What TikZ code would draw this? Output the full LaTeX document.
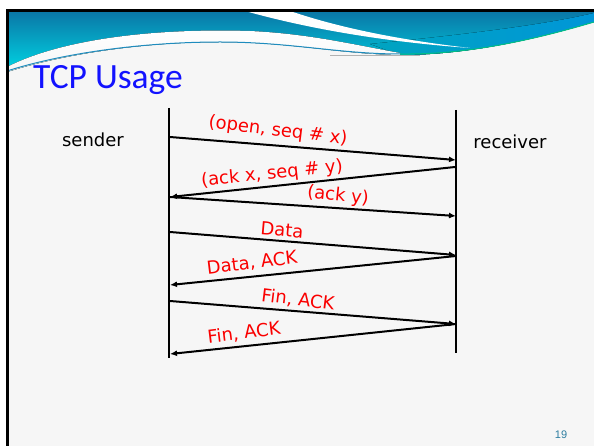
\documentclass[tikz,border=0pt]{standalone}
\usepackage{fontspec}
\setmainfont{Carlito}
\newfontfamily\handfont{DejaVu Sans}
\newfontfamily\numfont{Liberation Sans}
\usetikzlibrary{arrows.meta}

\definecolor{slidebg}{RGB}{246,246,246}
\definecolor{banddark}{RGB}{10,118,166}
\definecolor{bandcyan}{RGB}{0,214,228}
\definecolor{bandteal}{RGB}{0,164,192}
\definecolor{bandbright}{RGB}{0,150,216}
\definecolor{edgeline}{RGB}{30,140,190}
\definecolor{titleblue}{RGB}{18,18,255}
\definecolor{msgred}{RGB}{250,0,0}
\definecolor{pagenum}{RGB}{45,125,160}

\begin{document}
\begin{tikzpicture}[x=1pt,y=-1pt,
  lifeline/.style={line width=2.6pt,black},
  msg/.style={line width=2pt,black,-{Latex[length=7pt,width=6pt]}},
  msglabel/.style={text=msgred,font=\handfont\fontsize{18}{20}\selectfont,inner sep=0pt},
  party/.style={text=black,font=\handfont\fontsize{18}{20}\selectfont,inner sep=0pt}]
\useasboundingbox (0,0) rectangle (594,446);
\fill[white] (0,0) rectangle (594,446);
\fill[slidebg] (7,11) rectangle (594,446);

% header band
\fill[top color=banddark,bottom color=bandcyan]
  (7,11) -- (594,11) -- (594,22)
  .. controls (540,38) and (470,55) .. (400,55)
  .. controls (340,54) and (290,42) .. (220,42)
  .. controls (140,42) and (60,55) .. (7,72) -- cycle;
% brighter blue region on the right
\fill[left color=bandteal,right color=bandbright]
  (370,44) .. controls (450,36) and (540,26) .. (594,13) -- (594,22)
  .. controls (540,38) and (470,55) .. (400,55) -- cycle;
% white swoosh on the left
\fill[top color=white,bottom color=slidebg]
  (7,67) .. controls (60,40) and (150,28) .. (250,31)
  .. controls (310,34) and (350,44) .. (400,53)
  -- (400,55) .. controls (340,54) and (290,42) .. (220,42)
  .. controls (140,42) and (60,55) .. (7,72) -- cycle;
% white streak across the band
\fill[white] (245,11) -- (290,11)
  .. controls (340,28) and (400,40) .. (470,48)
  .. controls (400,43) and (320,32) .. (245,11) -- cycle;
% fine edge lines
\draw[edgeline,line width=1pt]
  (7,71) .. controls (60,54) and (140,42) .. (220,42)
  .. controls (290,42) and (340,54) .. (400,54);
\draw[bandteal!70!green,line width=1pt]
  (400,54) .. controls (470,55) and (540,38) .. (594,22);
\draw[gray!60,line width=1pt] (330,56) -- (420,56);

% slide frame
\draw[black,line width=2.5pt] (6,10.5) -- (594,10.5);
\draw[black,line width=3pt] (7.5,9.5) -- (7.5,446);

% title
\node[anchor=base west,inner sep=0pt,text=titleblue,
  font=\fontsize{35.5}{40}\selectfont] (title) at (33,89) {TCP Usage};

% parties and lifelines
\node[party] (sender) at (93,140) {sender};
\node[party] (receiver) at (510,142) {receiver};
\coordinate (sTop) at (169,108);
\coordinate (sBot) at (169,358);
\coordinate (rTop) at (456,110);
\coordinate (rBot) at (456,353);
\draw[lifeline] (sTop) -- (sBot);
\draw[lifeline,line width=2.3pt] (rTop) -- (rBot);

% message end points
\coordinate (s1) at (170,137); \coordinate (r1) at (456,160);
\coordinate (r2) at (455,167); \coordinate (s2) at (170,197);
\coordinate (s3) at (170,197); \coordinate (r3) at (456,216);
\coordinate (s4) at (170,232); \coordinate (r4) at (456,255);
\coordinate (r5) at (456,256); \coordinate (s5) at (170,285);
\coordinate (s6) at (170,301); \coordinate (r6) at (456,324);
\coordinate (r7) at (456,324); \coordinate (s7) at (170,354);

% messages
\draw[msg] (s1) -- (r1);
\draw[msg] (r2) -- (s2);
\draw[msg] (s3) -- (r3);
\draw[msg] (s4) -- (r4);
\draw[msg] (r5) -- (s5);
\draw[msg] (s6) -- (r6);
\draw[msg] (r7) -- (s7);

% message labels
\node[msglabel,rotate=-7] (m1) at (278,131) {(open, seq \# x)};
\node[msglabel,rotate=6]  (m2) at (272,174) {(ack x, seq \# y)};
\node[msglabel,rotate=-6] (m3) at (338,196) {(ack y)};
\node[msglabel,rotate=-5] (m4) at (282,230) {Data};
\node[msglabel,rotate=7]  (m5) at (252,263) {Data, ACK};
\node[msglabel,rotate=-7] (m6) at (298,300) {Fin, ACK};
\node[msglabel,rotate=7]  (m7) at (244,333) {Fin, ACK};

% page number
\node[text=pagenum,font=\numfont\fontsize{11}{13}\selectfont,inner sep=0pt]
  (page) at (561,435) {19};
\end{tikzpicture}
\end{document}
